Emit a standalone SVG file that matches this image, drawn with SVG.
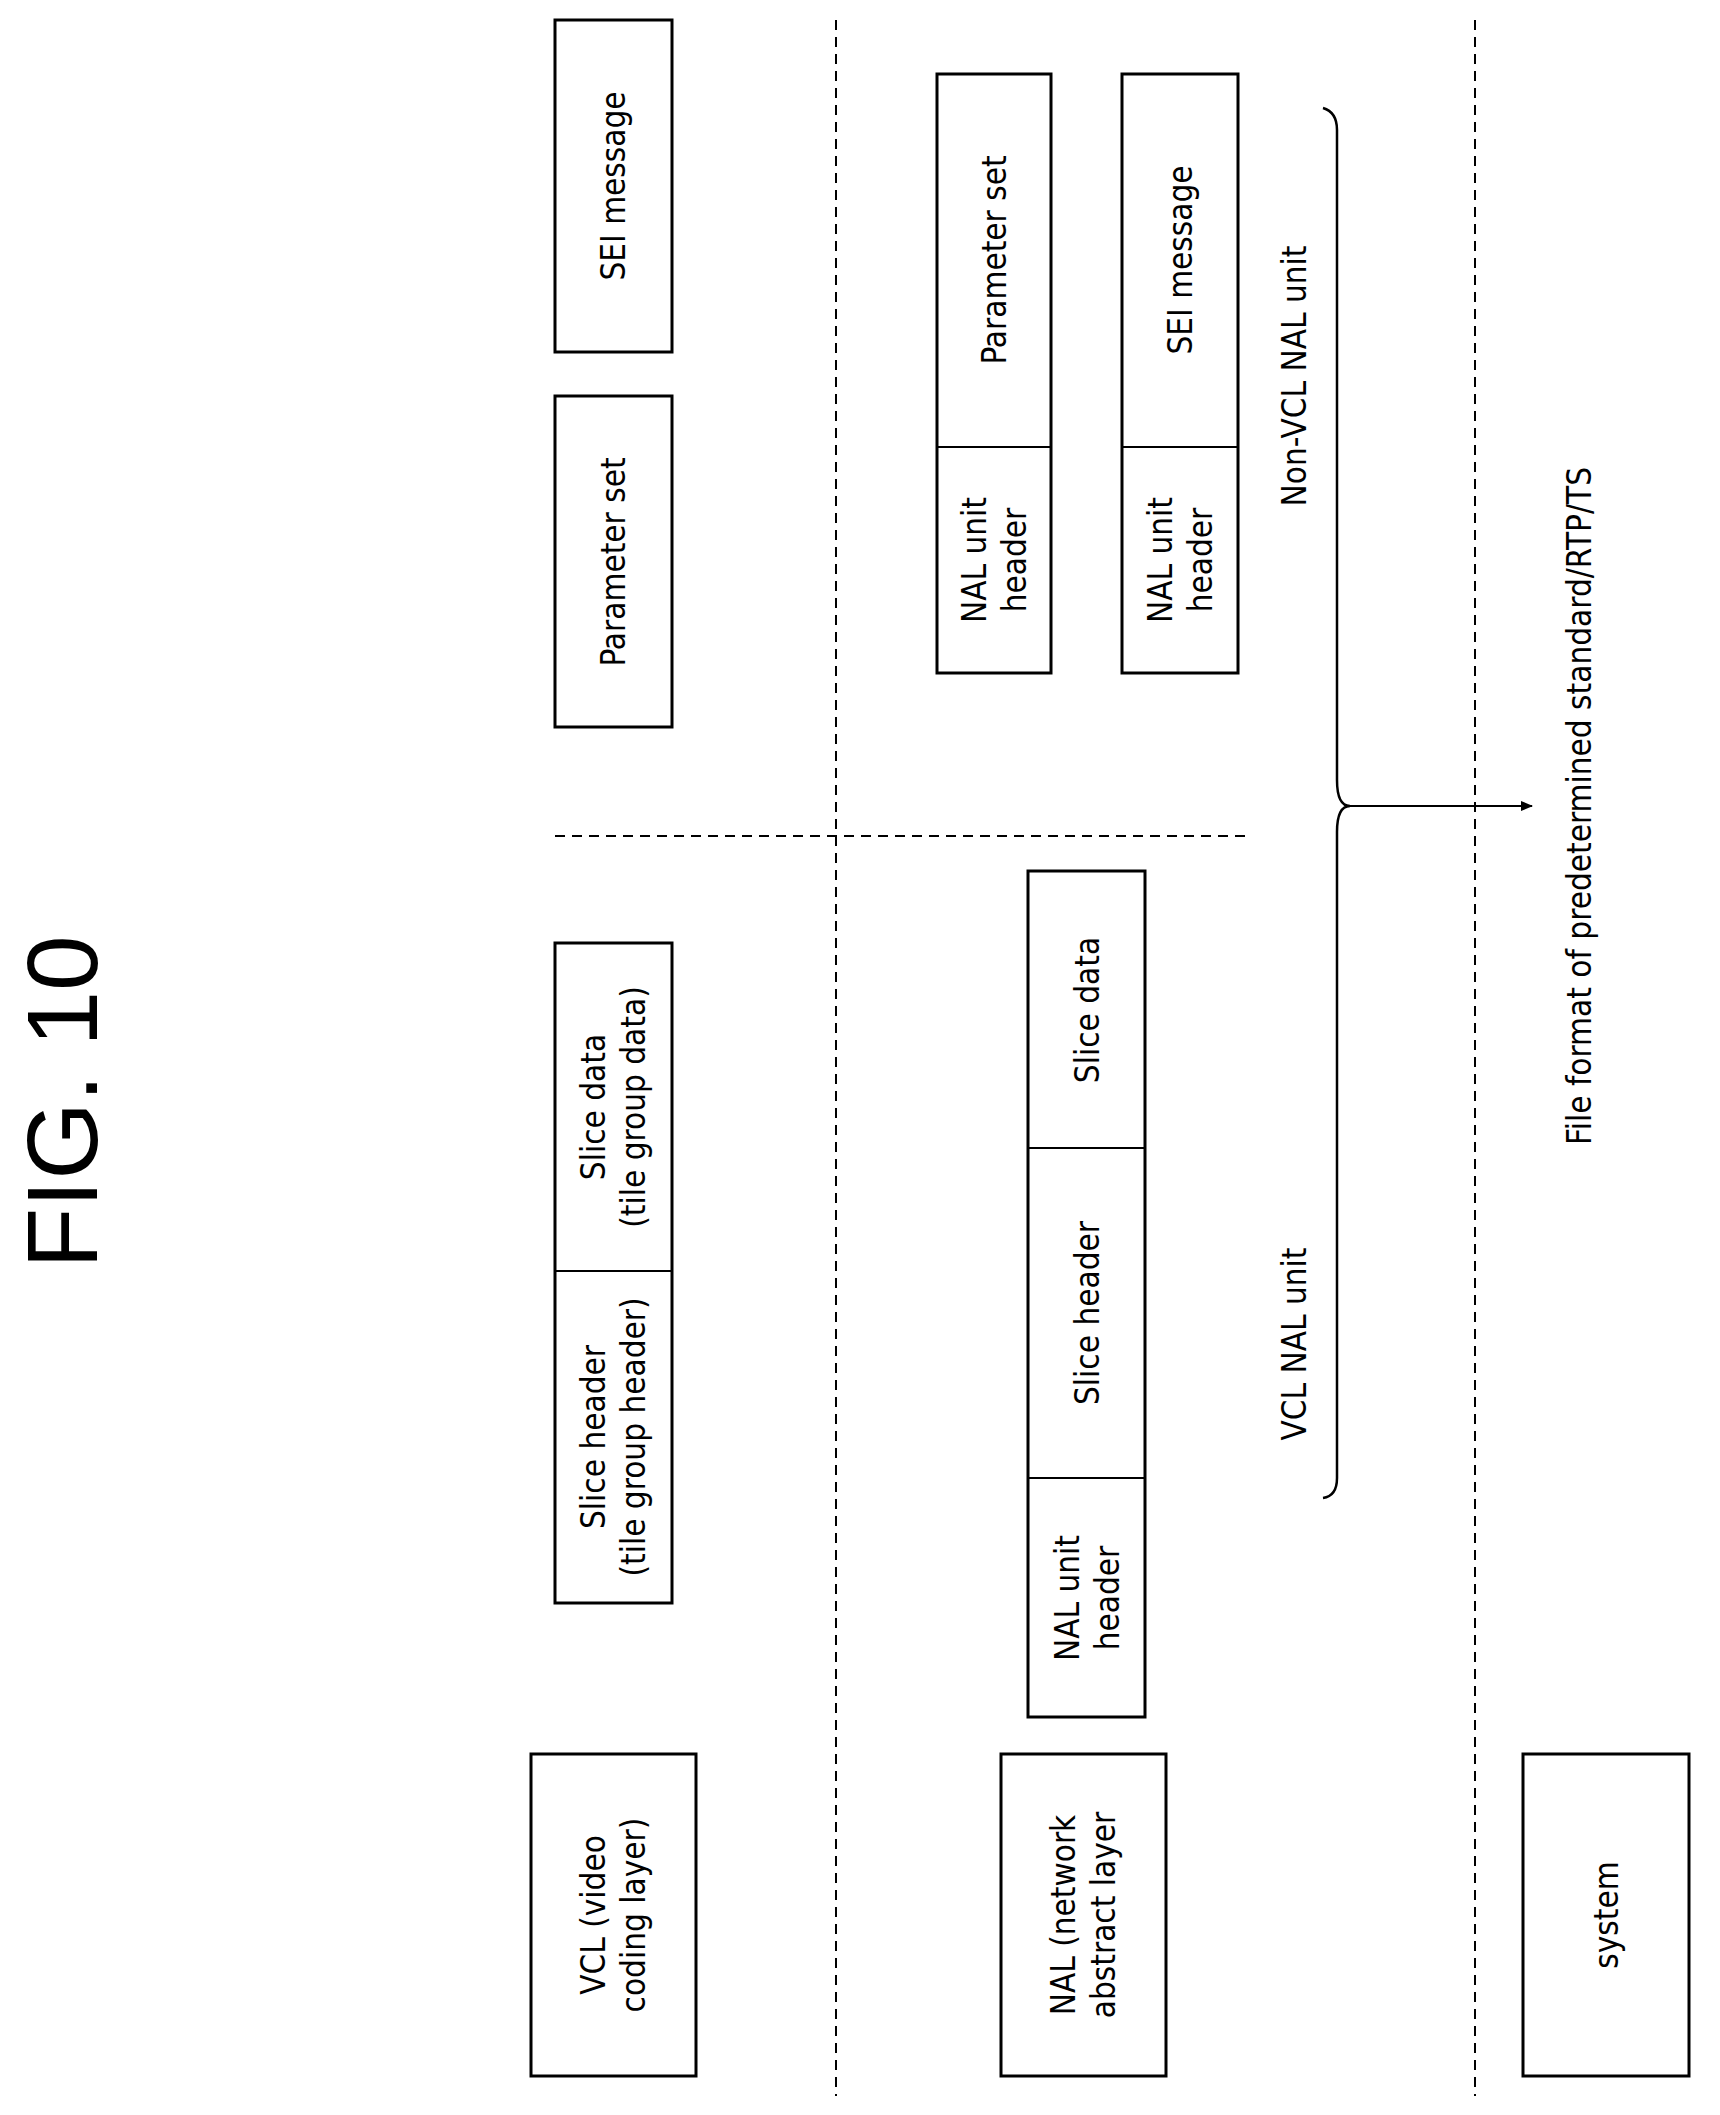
<svg xmlns="http://www.w3.org/2000/svg" width="1720" height="2115" viewBox="0 0 1720 2115">
<style>
rect{fill:#fff;stroke:#000;stroke-width:3}
line.d{stroke:#000;stroke-width:2;stroke-dasharray:10,7}
text{font-family:"DejaVu Sans Condensed","Liberation Sans",sans-serif;font-size:33px;text-anchor:middle;dominant-baseline:central;fill:#000}
.c{fill:none;stroke:#000;stroke-width:2.5}
</style>
<defs><marker id="ah" markerWidth="12" markerHeight="10" refX="11" refY="5" orient="auto" markerUnits="userSpaceOnUse"><path d="M0,0L12,5L0,10z" fill="#000"/></marker></defs>
<text transform="translate(62,1102) rotate(-90)" style="font-family:'Liberation Sans',sans-serif;font-size:100px">FIG. 10</text>
<g id="dashes">
<line class="d" x1="836" y1="20" x2="836" y2="2096"/>
<line class="d" x1="1475" y1="20" x2="1475" y2="2096"/>
<line class="d" x1="555" y1="836" x2="1250" y2="836"/>
</g>
<g id="vcl"><rect x="531" y="1754" width="165" height="322"/><text transform="translate(613,1915) rotate(-90)"><tspan x="0" dy="-20">VCL (video</tspan><tspan x="0" dy="40">coding layer)</tspan></text></g>
<g id="nal"><rect x="1001" y="1754" width="165" height="322"/><text transform="translate(1083,1915) rotate(-90)"><tspan x="0" dy="-20">NAL (network</tspan><tspan x="0" dy="40">abstract layer</tspan></text></g>
<g id="system"><rect x="1523" y="1754" width="166" height="322"/><text transform="translate(1606,1915) rotate(-90)">system</text></g>
<g id="slice"><rect x="555" y="943" width="117" height="660"/><line x1="555" y1="1271" x2="672" y2="1271" stroke="#000" stroke-width="2"/>
<text transform="translate(613,1437) rotate(-90)"><tspan x="0" dy="-20">Slice header</tspan><tspan x="0" dy="40">(tile group header)</tspan></text>
<text transform="translate(613,1107) rotate(-90)"><tspan x="0" dy="-20">Slice data</tspan><tspan x="0" dy="40">(tile group data)</tspan></text></g>
<g id="paramset"><rect x="555" y="396" width="117" height="331"/><text transform="translate(613,562) rotate(-90)">Parameter set</text></g>
<g id="sei"><rect x="555" y="20" width="117" height="332"/><text transform="translate(613,186) rotate(-90)">SEI message</text></g>
<g id="vclnal"><rect x="1028" y="871" width="117" height="846"/>
<line x1="1028" y1="1148" x2="1145" y2="1148" stroke="#000" stroke-width="2"/><line x1="1028" y1="1478" x2="1145" y2="1478" stroke="#000" stroke-width="2"/>
<text transform="translate(1087,1598) rotate(-90)"><tspan x="0" dy="-20">NAL unit</tspan><tspan x="0" dy="40">header</tspan></text>
<text transform="translate(1087,1313) rotate(-90)">Slice header</text>
<text transform="translate(1087,1010) rotate(-90)">Slice data</text></g>
<g id="psnal"><rect x="937" y="74" width="114" height="599"/><line x1="937" y1="447" x2="1051" y2="447" stroke="#000" stroke-width="2"/>
<text transform="translate(994,560) rotate(-90)"><tspan x="0" dy="-20">NAL unit</tspan><tspan x="0" dy="40">header</tspan></text>
<text transform="translate(994,260) rotate(-90)">Parameter set</text></g>
<g id="seinal"><rect x="1122" y="74" width="116" height="599"/><line x1="1122" y1="447" x2="1238" y2="447" stroke="#000" stroke-width="2"/>
<text transform="translate(1180,560) rotate(-90)"><tspan x="0" dy="-20">NAL unit</tspan><tspan x="0" dy="40">header</tspan></text>
<text transform="translate(1180,260) rotate(-90)">SEI message</text></g>
<g id="connectors">
<path class="c" d="M1323,108 Q1337,112 1337,130 L1337,780 Q1337,806 1350,806 Q1337,806 1337,832 L1337,1478 Q1337,1496 1323,1498"/>
<line x1="1350" y1="806" x2="1532" y2="806" stroke="#000" stroke-width="2" marker-end="url(#ah)"/>
</g>
<text transform="translate(1294,376) rotate(-90)">Non-VCL NAL unit</text>
<text transform="translate(1294,1344) rotate(-90)">VCL NAL unit</text>
<text transform="translate(1579,806) rotate(-90)">File format of predetermined standard/RTP/TS</text>
</svg>
